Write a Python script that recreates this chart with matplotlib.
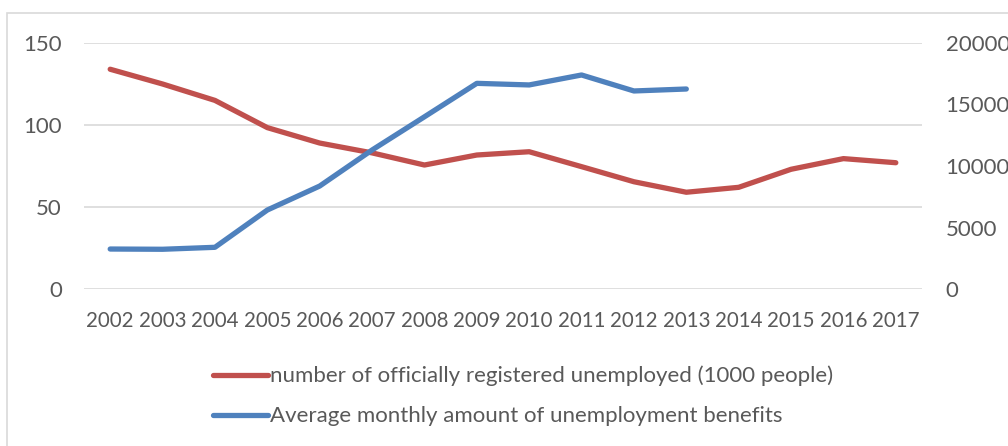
import matplotlib.pyplot as plt
from matplotlib.patches import Rectangle

years = [str(y) for y in range(2002, 2018)]
unemployed = [134, 125, 115, 98.4, 89, 83, 75.6, 81.7, 83.7, 74.6, 65.4, 59, 62, 73, 79.5, 77]
benefits = [3250, 3230, 3390, 6420, 8370, 11300, 14000, 16720, 16590, 17400, 16100, 16260]

red = '#C0504D'
blue = '#4F81BD'
txt = '#595959'

plt.rcParams['font.family'] = ['Lato', 'DejaVu Sans']

fig = plt.figure(figsize=(10.08, 4.46), dpi=100)
# chart border
fig.patches.append(Rectangle((7/1008, -0.05), 1.05, 1 - 13/446 + 0.05, transform=fig.transFigure,
                             fill=False, edgecolor='#D9D9D9', linewidth=1.2))

ax = fig.add_axes([84/1008, 1 - 289/446, (922 - 84)/1008, (289 - 43)/446])
ax2 = ax.twinx()

x = list(range(len(years)))
l1, = ax.plot(x, unemployed, color=red, linewidth=3.8, solid_capstyle='round', solid_joinstyle='round',
              label='number of officially registered unemployed (1000 people)')
l2, = ax2.plot(x[:len(benefits)], benefits, color=blue, linewidth=3.8, solid_capstyle='round',
               solid_joinstyle='round', label='Average monthly amount of unemployment benefits')

ax.set_xlim(-0.5, len(years) - 0.5)
ax.set_ylim(0, 150)
ax2.set_ylim(0, 20000)
ax.set_yticks([0, 50, 100, 150])
ax2.set_yticks([0, 5000, 10000, 15000, 20000])
ax.set_xticks(x)
ax.set_xticklabels(years)
ax.grid(axis='y', color='#D9D9D9', linewidth=1.2)
ax.set_axisbelow(True)

for a in (ax, ax2):
    for s in a.spines.values():
        s.set_visible(False)
    a.tick_params(length=0, labelsize=16, colors=txt)
ax.tick_params(axis='y', pad=16)
ax.tick_params(axis='x', pad=16, labelsize=14.8)
ax2.tick_params(axis='y', pad=17)

fig.legend(handles=[l1, l2], loc='upper left', bbox_to_anchor=(204/1008, 1 - 357/446),
           frameon=False, fontsize=16, labelcolor=txt, handlelength=2.5, handletextpad=0.05,
           labelspacing=0.9, borderaxespad=0)

fig.savefig('out.png', dpi=100)
